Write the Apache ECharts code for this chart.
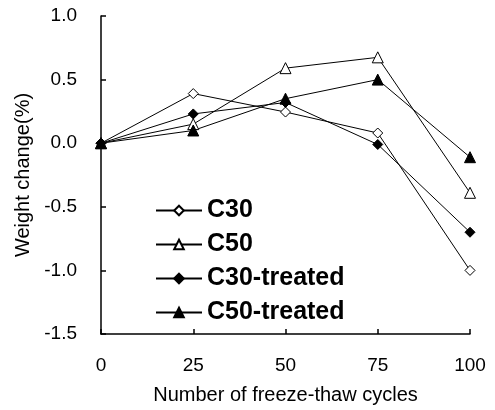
<!DOCTYPE html>
<html>
<head>
<meta charset="utf-8">
<script src="https://cdn.jsdelivr.net/npm/echarts@6/dist/echarts.min.js"></script>
<style>
  html, body { margin: 0; padding: 0; background: #fff; }
  #chart { width: 495px; height: 410px; }
</style>
</head>
<body>
<div id="chart"></div>
<script>
// freeze-thaw cycles
var cycles = [0, 25, 50, 75, 100];
// weight change (%)
var c30 = [0, 0.39, 0.245, 0.08, -1.0];
var c50 = [0, 0.15, 0.59, 0.675, -0.39];
var c30Treated = [0, 0.23, 0.32, -0.01, -0.70];
var c50Treated = [0, 0.10, 0.35, 0.50, -0.11];
var seriesNames = ['C30', 'C50', 'C30-treated', 'C50-treated'];

function pairs(vals) {
    var out = [];
    for (var i = 0; i < cycles.length; i++) {
        out.push([cycles[i], vals[i]]);
    }
    return out;
}

function makeSeries(name, vals, symbol, size, filled) {
    return {
        name: name,
        type: 'line',
        data: pairs(vals),
        symbol: symbol,
        symbolSize: size,
        showAllSymbol: true,
        lineStyle: { color: '#000', width: 1 },
        itemStyle: {
            color: filled ? '#000' : '#fff',
            borderColor: '#000',
            borderWidth: 1
        },
        emphasis: { disabled: true },
        animation: false
    };
}

var font = 'Liberation Sans, Arial, sans-serif';
var chart = echarts.init(document.getElementById('chart'));
var option = {
    backgroundColor: '#fff',
    textStyle: { fontFamily: font, color: '#000' },
    grid: { left: 101, right: 25, top: 16, bottom: 73 },
    legend: {
        orient: 'vertical',
        left: 150,
        top: 193,
        itemWidth: 46,
        itemHeight: 12,
        itemGap: 9,
        data: seriesNames,
        textStyle: { fontSize: 25, fontWeight: 'bold', color: '#000', fontFamily: font }
    },
    xAxis: {
        type: 'value',
        min: 0,
        max: 100,
        interval: 25,
        name: 'Number of freeze-thaw cycles',
        nameLocation: 'middle',
        nameGap: 51,
        nameTextStyle: { fontSize: 20, color: '#000' },
        axisLine: { onZero: false, lineStyle: { color: '#000', width: 1.5 } },
        axisTick: { inside: true, length: 5, lineStyle: { color: '#000', width: 1.5 } },
        axisLabel: { fontSize: 19, color: '#000', margin: 22 },
        splitLine: { show: false }
    },
    yAxis: {
        type: 'value',
        min: -1.5,
        max: 1.0,
        interval: 0.5,
        name: 'Weight change(%)',
        nameLocation: 'middle',
        nameGap: 61,
        nameTextStyle: { fontSize: 20, color: '#000' },
        axisLine: { onZero: false, lineStyle: { color: '#000', width: 1.5 } },
        axisTick: { inside: true, length: 5, lineStyle: { color: '#000', width: 1.5 } },
        axisLabel: {
            fontSize: 19,
            color: '#000',
            margin: 24,
            formatter: function (v) { return v.toFixed(1); }
        },
        splitLine: { show: false }
    },
    series: [
        makeSeries('C30', c30, 'diamond', 10, false),
        makeSeries('C50', c50, 'triangle', 11, false),
        makeSeries('C30-treated', c30Treated, 'diamond', 10, true),
        makeSeries('C50-treated', c50Treated, 'triangle', 11, true)
    ]
};
chart.setOption(option);
</script>
</body>
</html>
